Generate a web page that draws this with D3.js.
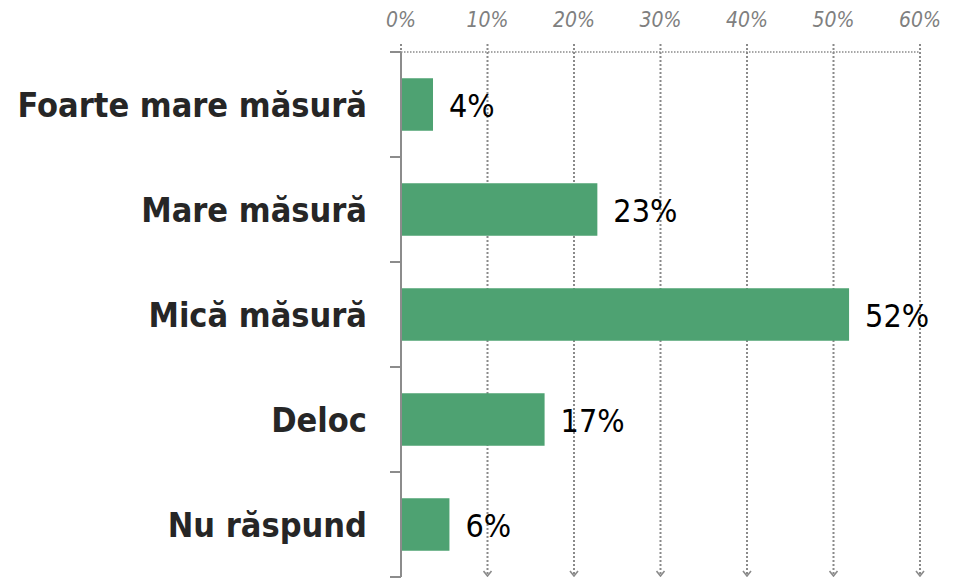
<!DOCTYPE html>
<html>
<head>
<meta charset="utf-8">
<script src="https://cdn.jsdelivr.net/npm/d3@7"></script>
<style>
  body { margin: 0; background: #fff; }
  #chart { width: 956px; height: 584px; }
</style>
</head>
<body>
<div id="chart"></div>
<script>
// chart data
const categories = ['Foarte mare măsură', 'Mare măsură', 'Mică măsură', 'Deloc', 'Nu răspund'];
const values = [0.037, 0.227, 0.518, 0.166, 0.056];
const valueLabels = ['4%', '23%', '52%', '17%', '6%'];
const xTicks = [0, 0.1, 0.2, 0.3, 0.4, 0.5, 0.6];

(function() {
  const width = 956;
  const height = 584;
  const left = 401, right = 920, top = 52, bottom = 577;

  const svg = d3.select('#chart')
    .append('svg')
    .attr('width', width)
    .attr('height', height);

  const x = d3.scaleLinear().domain([0, 0.6]).range([left, right]);
  const y = d3.scaleBand()
    .domain(categories)
    .range([top, bottom])
    .paddingInner(0.5)
    .paddingOuter(0.25);

  const gridColor = '#8a8a8a';

  // arrow head for gridlines
  svg.append('defs').append('marker')
    .attr('id', 'arrow')
    .attr('viewBox', '0 0 10 10')
    .attr('refX', 5)
    .attr('refY', 9)
    .attr('markerWidth', 10)
    .attr('markerHeight', 10)
    .attr('markerUnits', 'userSpaceOnUse')
    .attr('orient', 0)
    .append('path')
    .attr('d', 'M1,4 L5,9 L9,4')
    .attr('fill', 'none')
    .attr('stroke', gridColor)
    .attr('stroke-width', 1.6);

  // top dotted line
  svg.append('line')
    .attr('x1', x(0)).attr('x2', x(0.6))
    .attr('y1', top).attr('y2', top)
    .attr('stroke', gridColor)
    .attr('stroke-width', 1.5)
    .attr('stroke-dasharray', '1.5,1.5');

  // vertical gridlines
  svg.selectAll('.grid')
    .data(xTicks)
    .enter()
    .append('line')
    .attr('x1', d => x(d))
    .attr('x2', d => x(d))
    .attr('y1', top - 8)
    .attr('y2', d => d === 0 ? top : bottom - 1)
    .attr('stroke', gridColor)
    .attr('stroke-width', 2)
    .attr('stroke-dasharray', '2,2')
    .attr('marker-end', d => d === 0 ? null : 'url(#arrow)');

  // tick labels
  svg.selectAll('.xlabel')
    .data(xTicks)
    .enter()
    .append('text')
    .attr('x', d => x(d))
    .attr('y', 27)
    .attr('text-anchor', 'middle')
    .attr('font-family', 'DejaVu Sans, sans-serif')
    .attr('font-stretch', 'condensed')
    .attr('font-style', 'italic')
    .attr('font-size', '21px')
    .attr('fill', '#7f7f7f')
    .text(d => d3.format('.0%')(d));

  // bars
  svg.selectAll('.bar')
    .data(values)
    .enter()
    .append('rect')
    .attr('x', x(0))
    .attr('y', (d, i) => y(categories[i]))
    .attr('width', d => x(d) - x(0))
    .attr('height', y.bandwidth())
    .attr('fill', '#4ea272');

  // y axis
  const yAxis = svg.append('g')
    .attr('transform', `translate(${left},0)`);
  yAxis.append('line')
    .attr('x1', 0).attr('x2', 0)
    .attr('y1', top).attr('y2', bottom)
    .attr('stroke', '#8c8c8c')
    .attr('stroke-width', 2);
  const step = y.step();
  const bounds = d3.range(categories.length + 1).map(i => top + i * step);
  yAxis.selectAll('.ytick')
    .data(bounds)
    .enter()
    .append('line')
    .attr('x1', -11).attr('x2', 0)
    .attr('y1', d => d).attr('y2', d => d)
    .attr('stroke', '#8c8c8c')
    .attr('stroke-width', 2);

  // category labels
  svg.selectAll('.ylabel')
    .data(categories)
    .enter()
    .append('text')
    .attr('x', 367)
    .attr('y', d => y(d) + y.bandwidth() / 2 + 12)
    .attr('text-anchor', 'end')
    .attr('font-family', 'DejaVu Sans, sans-serif')
    .attr('font-stretch', 'condensed')
    .attr('font-weight', 'bold')
    .attr('font-size', '34px')
    .attr('fill', '#262626')
    .text(d => d);

  // value labels
  svg.selectAll('.vlabel')
    .data(values)
    .enter()
    .append('text')
    .attr('x', d => x(d) + 16)
    .attr('y', (d, i) => y(categories[i]) + y.bandwidth() / 2 + 12)
    .attr('font-family', 'DejaVu Sans, sans-serif')
    .attr('font-stretch', 'condensed')
    .attr('font-size', '32px')
    .attr('fill', '#000')
    .text((d, i) => valueLabels[i]);
})();
</script>
</body>
</html>
